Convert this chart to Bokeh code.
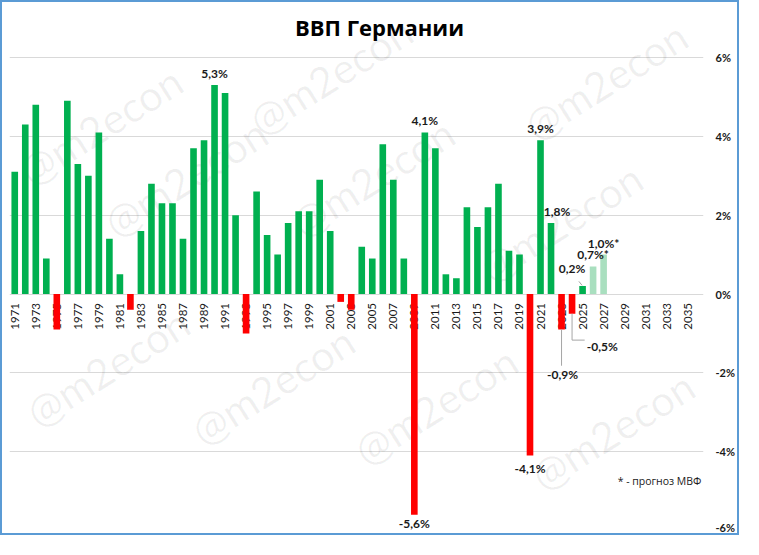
import math
from bokeh.plotting import figure
from bokeh.models import ColumnDataSource, Range1d, FixedTicker, Label
from bokeh.core.properties import value
from bokeh.embed import file_html
from bokeh.resources import INLINE

# ---------------- data ----------------
title_text = "ВВП Германии"
years = list(range(1971, 2028))
gdp = [3.1, 4.3, 4.8, 0.9, -0.9, 4.9, 3.3, 3.0, 4.1, 1.4,
       0.5, -0.4, 1.6, 2.8, 2.3, 2.3, 1.4, 3.7, 3.9, 5.3,
       5.1, 2.0, -1.0, 2.6, 1.5, 1.0, 1.8, 2.1, 2.1, 2.9,
       1.6, -0.2, -0.4, 1.2, 0.9, 3.8, 2.9, 0.9, -5.6, 4.1,
       3.7, 0.5, 0.4, 2.2, 1.7, 2.2, 2.8, 1.1, 1.0, -4.1,
       3.9, 1.8, -0.9, -0.5, 0.2, 0.7, 1.0]
forecast_years = [2026, 2027]
axis_years = list(range(1971, 2036, 2))
y_ticks = [-6, -4, -2, 0, 2, 4, 6]
y_tick_labels = ["-6%", "-4%", "-2%", "0%", "2%", "4%", "6%"]
labels_above = [1990, 2010, 2021, 2022, 2026, 2027]
labels_below = [2009, 2020]
footnote = "* - прогноз МВФ"
watermark = "@m2econ"

GREEN = "#00B050"
RED = "#FF0000"
LIGHT = "#A9DFBF"
TXT = "#1a1a1a"
NUMFONT = value("Lato")
CYRFONT = "Open Sans"

val = dict(zip(years, gdp))


def fmt(y):
    return f"{val[y]:.1f}".replace(".", ",") + "%" + ("*" if y in forecast_years else "")


colors = [RED if v < 0 else (LIGHT if y in forecast_years else GREEN) for y, v in zip(years, gdp)]

# ---------------- layout (picture pixels) ----------------
BORDER = 2
W, H = 739, 535
FRAME_L = 9          # picture x of frame left
FRAME_T = 2          # picture y of frame top (frame reaches the top so the title fits inside)
FRAME_B = 530        # picture y of the -6% line
Y6 = 57              # picture y of the 6% line
ppu = (FRAME_B - Y6) / 12.0
y_top = 6 + (Y6 - FRAME_T) / ppu

p = figure(width=W, height=H, output_backend="svg", toolbar_location=None,
           x_range=Range1d(1970.5, 2036.5), y_range=Range1d(-6, y_top),
           x_axis_location=None, y_axis_location="right",
           min_border_left=FRAME_L - BORDER, min_border_right=38,
           min_border_top=FRAME_T - BORDER, min_border_bottom=H + BORDER - FRAME_B)
p.styles = {"border": f"{BORDER}px solid #5B9BD5"}
p.outline_line_color = None
p.background_fill_color = "white"
p.border_fill_color = "white"

# grid / axis
p.xgrid.visible = False
p.ygrid.ticker = FixedTicker(ticks=y_ticks)
p.ygrid.grid_line_color = "#D9D9D9"
p.ygrid.grid_line_width = 1
ax = p.yaxis[0]
ax.ticker = FixedTicker(ticks=y_ticks)
ax.major_label_overrides = {t: s for t, s in zip(y_ticks, y_tick_labels)}
ax.axis_line_color = None
ax.major_tick_line_color = None
ax.minor_tick_line_color = None
ax.major_label_standoff = 6
ax.major_label_text_font = "Lato"
ax.major_label_text_font_size = "11px"
ax.major_label_text_font_style = "bold"
ax.major_label_text_color = TXT

# watermarks (picture px -> screen units relative to the frame's bottom-left)
wm_centers = [(100, 125), (185, 177), (330, 75), (372, 177), (605, 80), (560, 222),
              (107, 367), (272, 385), (435, 405), (612, 430)]
for (px, py) in wm_centers:
    p.add_layout(Label(x=px - FRAME_L, y=FRAME_B - py, x_units="screen", y_units="screen",
                       text=watermark, angle=0.56, text_align="center", text_baseline="middle",
                       text_font="Lato", text_font_size="42px", text_color="#000000",
                       text_alpha=0.06, level="underlay"))

# chart title
p.add_layout(Label(x=379 - FRAME_L, y=FRAME_B - 26, x_units="screen", y_units="screen",
                   text=title_text, text_align="center", text_baseline="middle",
                   text_font=CYRFONT, text_font_size="22px", text_font_style="bold",
                   text_color="#000000"))

# x tick labels (drawn before bars so red bars cover them, as in the original)
p.text(x=axis_years, y=[0] * len(axis_years), text=[str(y) for y in axis_years],
       angle=math.pi / 2, text_align="right", text_baseline="middle", y_offset=9,
       text_font=NUMFONT, text_font_size="11.5px", text_color=TXT)

# bars
src = ColumnDataSource(dict(x=years, top=gdp, color=colors))
p.vbar(x="x", top="top", bottom=0, width=0.63, fill_color="color", line_color=None, source=src)

# labels above bars
xa = labels_above
p.text(x=xa, y=[val[y] for y in xa], text=[fmt(y) for y in xa],
       x_offset=[6 if y == 2022 else 0 for y in xa], y_offset=-4,
       text_align="center", text_baseline="bottom",
       text_font=NUMFONT, text_font_size="12px", text_font_style="bold", text_color=TXT)
# labels below bars
xb = labels_below
p.text(x=xb, y=[val[y] for y in xb], text=[fmt(y) for y in xb],
       y_offset=[1 if val[y] < -5 else 5 for y in xb],
       text_align="center", text_baseline="top",
       text_font=NUMFONT, text_font_size="12px", text_font_style="bold", text_color=TXT)

# leader-line labels: 2023, 2024, 2025
LEAD = "#A6A6A6"
v23, v24, v25 = val[2023], val[2024], val[2025]
p.line(x=[2023, 2023], y=[v23, v23 - 0.92], line_color=LEAD, line_width=1)
p.text(x=[2023.1], y=[v23 - 0.95], text=[fmt(2023)], text_align="center", text_baseline="top",
       text_font=NUMFONT, text_font_size="12px", text_font_style="bold", text_color=TXT)
p.line(x=[2024, 2024, 2025.2], y=[v24, v24 - 0.67, v24 - 0.67], line_color=LEAD, line_width=1)
p.text(x=[2025.4], y=[v24 - 0.84], text=[fmt(2024)], text_align="left", text_baseline="middle",
       text_font=NUMFONT, text_font_size="12px", text_font_style="bold", text_color=TXT)
p.line(x=[2024.65, 2024.95], y=[v25 + 0.12, v25 + 0.02], line_color=LEAD, line_width=1)
p.text(x=[2024.0], y=[v25 + 0.44], text=[fmt(2025)], text_align="center", text_baseline="middle",
       text_font=NUMFONT, text_font_size="12px", text_font_style="bold", text_color=TXT)

# footnote (kept inside the plotting frame)
p.add_layout(Label(x=2036.3, y=-4.75, text=footnote, text_align="right", text_baseline="middle",
                   text_font=CYRFONT, text_font_size="10.5px", text_color=TXT))

open("out.html", "w").write(file_html(p, INLINE))
